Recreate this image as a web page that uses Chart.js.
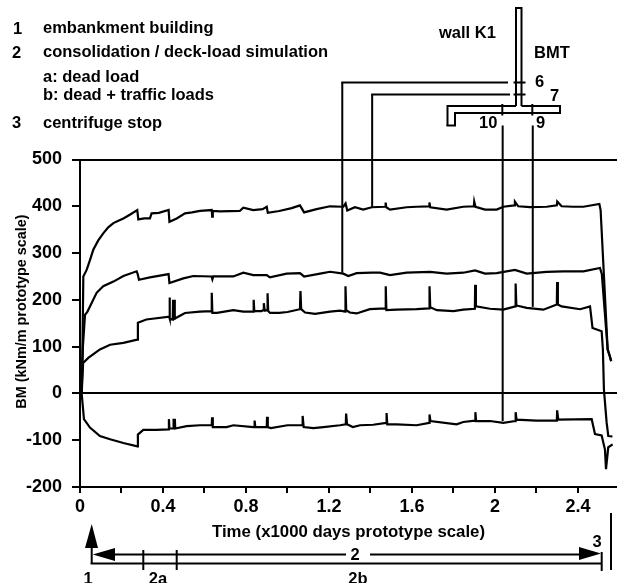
<!DOCTYPE html>
<html lang="en">
<head>
    <meta charset="UTF-8">
    <title>Bending moments in wall K1 and BMT</title>
    <script src="https://cdn.jsdelivr.net/npm/chart.js"></script>
    <style>
        html, body { margin: 0; padding: 0; background: #fff; }
        canvas { display: block; }
    </style>
</head>

<body>
    <canvas id="bmChart" width="617" height="583"></canvas>

    <script>
        // Curves, time in x1000 days, BM in kNm/m
        const gauge7Time = [0.008, 0.012, 0.016, 0.032, 0.048, 0.064, 0.088, 0.112, 0.136, 0.161, 0.185, 0.209, 0.24, 0.276, 0.281, 0.31, 0.337, 0.345, 0.38, 0.427, 0.431, 0.466, 0.506, 0.54, 0.578, 0.635, 0.637, 0.64, 0.674, 0.77, 0.787, 0.835, 0.88, 0.9, 0.905, 0.96, 1.02, 1.06, 1.08, 1.14, 1.205, 1.269, 1.28, 1.288, 1.325, 1.365, 1.406, 1.47, 1.473, 1.476, 1.494, 1.574, 1.622, 1.682, 1.684, 1.688, 1.767, 1.847, 1.898, 1.9, 1.906, 1.952, 2.008, 2.04, 2.094, 2.096, 2.112, 2.169, 2.249, 2.298, 2.3, 2.321, 2.377, 2.426, 2.503, 2.509, 2.543, 2.553, 2.56];
        const gauge7Bm = [0, 100, 250, 264, 285, 307, 327, 342, 355, 364, 369, 374, 382, 392, 372, 374, 374, 385, 386, 392, 367, 374, 385, 387, 390, 392, 378, 390, 389, 390, 397, 392, 394, 399, 386, 390, 396, 402, 387, 394, 400, 399, 406, 391, 398, 393, 398, 399, 408, 398, 393, 398, 399, 400, 408, 398, 393, 399, 400, 410, 399, 393, 393, 399, 402, 410, 400, 398, 399, 402, 410, 400, 399, 399, 405, 392, 94, 80, 69];

        const gauge6Time = [0.008, 0.014, 0.024, 0.036, 0.048, 0.08, 0.112, 0.161, 0.209, 0.273, 0.278, 0.284, 0.337, 0.427, 0.431, 0.498, 0.546, 0.634, 0.638, 0.642, 0.707, 0.739, 0.787, 0.835, 0.9, 0.915, 0.996, 1.06, 1.08, 1.17, 1.205, 1.269, 1.293, 1.333, 1.406, 1.446, 1.494, 1.574, 1.687, 1.767, 1.847, 1.904, 1.952, 2.008, 2.096, 2.153, 2.249, 2.329, 2.426, 2.506, 2.515, 2.543, 2.553, 2.56];
        const gauge6Bm = [0, 100, 168, 175, 186, 215, 229, 239, 251, 261, 255, 243, 248, 255, 236, 246, 251, 250, 244, 250, 250, 250, 258, 253, 253, 248, 256, 257, 250, 257, 260, 256, 251, 257, 258, 258, 253, 258, 260, 256, 258, 263, 256, 257, 264, 256, 260, 261, 261, 268, 255, 94, 80, 69];

        const gauge9Time = [0.008, 0.015, 0.04, 0.096, 0.145, 0.209, 0.276, 0.279, 0.32, 0.43, 0.4315, 0.4335, 0.447, 0.4485, 0.45, 0.4545, 0.456, 0.4575, 0.506, 0.578, 0.634, 0.635, 0.638, 0.66, 0.739, 0.787, 0.836, 0.837, 0.84, 0.875, 0.882, 0.886, 0.89, 0.902, 0.904, 0.907, 0.916, 0.96, 1.0, 1.06, 1.0625, 1.066, 1.085, 1.133, 1.205, 1.253, 1.278, 1.2795, 1.283, 1.3, 1.333, 1.397, 1.472, 1.4735, 1.4765, 1.526, 1.622, 1.683, 1.6845, 1.688, 1.72, 1.8, 1.847, 1.903, 1.9045, 1.908, 1.976, 2.04, 2.098, 2.0995, 2.103, 2.153, 2.233, 2.298, 2.2995, 2.303, 2.321, 2.41, 2.458, 2.47, 2.514, 2.52, 2.525, 2.538, 2.546, 2.566];
        const gauge9Bm = [0, 65, 76, 94, 104, 108, 115, 151, 158, 164, 205, 160, 158, 200, 160, 160, 200, 160, 172, 175, 176, 215, 172, 172, 178, 175, 175, 200, 176, 176, 178, 193, 177, 178, 214, 176, 172, 172, 174, 180, 219, 180, 173, 170, 175, 177, 175, 229, 178, 173, 171, 180, 182, 229, 178, 179, 180, 182, 229, 184, 178, 176, 179, 181, 232, 186, 181, 179, 186, 235, 188, 183, 179, 190, 238, 190, 186, 180, 186, 140, 133, 94, 8, -62, -91, -92];

        const gauge10Time = [0.008, 0.019, 0.048, 0.096, 0.145, 0.209, 0.276, 0.279, 0.305, 0.368, 0.427, 0.4285, 0.431, 0.4485, 0.45, 0.452, 0.4555, 0.457, 0.459, 0.514, 0.578, 0.635, 0.6365, 0.64, 0.707, 0.739, 0.835, 0.84, 0.8415, 0.845, 0.9, 0.9015, 0.905, 0.92, 1.0, 1.0715, 1.073, 1.078, 1.125, 1.173, 1.253, 1.281, 1.2825, 1.287, 1.315, 1.35, 1.413, 1.476, 1.4775, 1.481, 1.526, 1.622, 1.683, 1.6845, 1.689, 1.815, 1.847, 1.904, 1.9055, 1.909, 1.976, 2.04, 2.098, 2.0995, 2.104, 2.2, 2.298, 2.2995, 2.305, 2.466, 2.482, 2.514, 2.53, 2.535, 2.546, 2.567];
        const gauge10Bm = [0, -55, -73, -91, -98, -106, -113, -88, -78, -78, -77, -55, -75, -75, -54, -75, -75, -54, -75, -70, -68, -68, -51, -72, -72, -68, -72, -72, -58, -72, -72, -50, -72, -74, -68, -68, -48, -72, -74, -72, -68, -66, -43, -66, -72, -68, -67, -63, -42, -66, -66, -68, -63, -45, -59, -66, -61, -58, -40, -59, -59, -63, -59, -40, -56, -58, -58, -36, -56, -55, -87, -90, -120, -162, -115, -109];

        // Tick positions and labels
        const yTicks = [-200, -100, 0, 100, 200, 300, 400, 500];
        const xTicks = [0, 0.2, 0.4, 0.6, 0.8, 1, 1.2, 1.4, 1.6, 1.8, 2, 2.2, 2.4];
        const xLabels = ['0', '', '0.4', '', '0.8', '', '1.2', '', '1.6', '', '2', '', '2.4'];

        // Where the gauge leaders come down onto the curves: time, BM at the foot
        const leaderTime = [1.264, 1.408, 2.037, 2.182];
        const leaderFoot = [258, 398, -59, 185];
        const leaderTop = [82.5, 94.5, 125.5, 125.5]; // y pixel where each leader starts

        function toPoints(ts, vs) {
            return ts.map((t, i) => ({ x: t, y: vs[i] }));
        }

        function curve(ts, vs) {
            return {
                data: toPoints(ts, vs),
                borderColor: '#000',
                borderWidth: 2.2,
                pointRadius: 0,
                tension: 0,
                clip: false
            };
        }

        function text(ctx, str, x, y, font, align) {
            ctx.font = font;
            ctx.textAlign = align || 'left';
            ctx.textBaseline = 'middle';
            ctx.fillText(str, x, y);
        }

        function seg(ctx, x1, y1, x2, y2, w) {
            ctx.lineWidth = w || 2;
            ctx.beginPath();
            ctx.moveTo(x1, y1);
            ctx.lineTo(x2, y2);
            ctx.stroke();
        }

        function tri(ctx, a, b, c) {
            ctx.beginPath();
            ctx.moveTo(a[0], a[1]);
            ctx.lineTo(b[0], b[1]);
            ctx.lineTo(c[0], c[1]);
            ctx.closePath();
            ctx.fill();
        }

        // Everything round the plot: key, wall sketch, time bar
        const extras = {
            id: 'extras',
            afterDraw(chart) {
                const ctx = chart.ctx;
                const xs = chart.scales.x;
                const ys = chart.scales.y;
                ctx.save();
                ctx.fillStyle = '#000';
                ctx.strokeStyle = '#000';
                ctx.lineCap = 'butt';

                const bold = 'bold 16.5px "Liberation Sans"';
                text(ctx, '1', 13, 29, bold);
                text(ctx, 'embankment building', 43, 28, bold);
                text(ctx, '2', 12, 53, bold);
                text(ctx, 'consolidation / deck-load simulation', 43, 52, bold);
                text(ctx, 'a: dead load', 43, 77.5, bold);
                text(ctx, 'b: dead + traffic loads', 43, 95, bold);
                text(ctx, '3', 12, 123, bold);
                text(ctx, 'centrifuge stop', 43, 123, bold);
                text(ctx, 'wall K1', 439, 33, bold);
                text(ctx, 'BMT', 534, 53, bold);
                text(ctx, '6', 535, 82, bold);
                text(ctx, '7', 550, 96, bold);
                text(ctx, '10', 479, 123, bold);
                text(ctx, '9', 536, 123, bold);

                // wall and base slab outline
                seg(ctx, 516, 8, 521.5, 8);
                seg(ctx, 516, 7, 516, 106);
                seg(ctx, 521.5, 7, 521.5, 106);
                seg(ctx, 447.5, 106, 516, 106);
                seg(ctx, 521.5, 106, 560, 106);
                seg(ctx, 560, 105, 560, 114);
                seg(ctx, 455, 113, 560, 113);
                seg(ctx, 447.5, 105, 447.5, 126);
                seg(ctx, 455, 112, 455, 126);
                seg(ctx, 446.5, 125.5, 456, 125.5);
                // gauge marks on the sketch
                seg(ctx, 513.5, 82.5, 525.5, 82.5);
                seg(ctx, 513.5, 94.5, 525.5, 94.5);
                seg(ctx, 502.3, 104, 502.3, 115.5);
                seg(ctx, 532.3, 104, 532.3, 115.5);

                // leaders from the sketch down onto the curves
                leaderTime.forEach((t, i) => {
                    const x = xs.getPixelForValue(t);
                    seg(ctx, x, leaderTop[i], x, ys.getPixelForValue(leaderFoot[i]));
                });
                seg(ctx, xs.getPixelForValue(leaderTime[0]) - 1, 82.5, 508, 82.5);
                seg(ctx, xs.getPixelForValue(leaderTime[1]) - 1, 94.5, 510, 94.5);

                // rotated y title
                ctx.save();
                ctx.translate(22, 311.5);
                ctx.rotate(-Math.PI / 2);
                text(ctx, 'BM (kNm/m prototype scale)', 0, 0, 'bold 14.4px "Liberation Sans"', 'center');
                ctx.restore();

                // time bar under the plot
                tri(ctx, [91.7, 524], [85, 548], [98, 548]);
                tri(ctx, [92.7, 554.5], [115, 548], [115, 561]);
                seg(ctx, 91.7, 548, 91.7, 564);
                seg(ctx, 115, 554.5, 346, 554.5);
                seg(ctx, 370, 554.5, 580, 554.5);
                tri(ctx, [601, 553.5], [579, 547], [579, 560]);
                seg(ctx, 90.7, 563.5, 601.7, 563.5);
                seg(ctx, 143.3, 550, 143.3, 570);
                seg(ctx, 176.7, 550, 176.7, 570);
                seg(ctx, 601.7, 552, 601.7, 571);
                seg(ctx, 611, 513, 611, 570);
                text(ctx, '2', 355, 555, bold, 'center');
                text(ctx, '3', 597, 542, bold, 'center');
                text(ctx, '1', 88, 579.5, bold, 'center');
                text(ctx, '2a', 158, 579.5, bold, 'center');
                text(ctx, '2b', 358, 579.5, bold, 'center');
                ctx.restore();
            }
        };

        new Chart(document.getElementById('bmChart'), {
            type: 'line',
            data: {
                datasets: [
                    curve(gauge7Time, gauge7Bm),
                    curve(gauge6Time, gauge6Bm),
                    curve(gauge9Time, gauge9Bm),
                    curve(gauge10Time, gauge10Bm)
                ]
            },
            options: {
                responsive: false,
                animation: false,
                devicePixelRatio: 1,
                layout: { padding: { top: 159.5, left: 0, right: 0, bottom: 0 } },
                plugins: { legend: { display: false }, tooltip: { enabled: false } },
                scales: {
                    x: {
                        type: 'linear',
                        min: 0,
                        max: 2.588,
                        afterFit(scale) {
                            scale.height = 96;
                            scale.paddingLeft = scale.paddingRight = 0;
                        },
                        afterBuildTicks(scale) {
                            scale.ticks = xTicks.map(v => ({ value: v }));
                        },
                        border: { color: '#000', width: 2 },
                        grid: { drawOnChartArea: false, color: '#000', lineWidth: 2, tickLength: 6 },
                        ticks: {
                            autoSkip: false,
                            maxRotation: 0,
                            color: '#000',
                            padding: 3,
                            font: { family: '"Liberation Sans"', size: 18, weight: 'bold' },
                            callback(v) {
                                return xLabels[xTicks.indexOf(v)];
                            }
                        },
                        title: {
                            display: true,
                            text: 'Time (x1000 days prototype scale)',
                            color: '#000',
                            padding: { top: 5, bottom: 41 },
                            font: { family: '"Liberation Sans"', size: 16.8, weight: 'bold' }
                        }
                    },
                    y: {
                        min: -200,
                        max: 500,
                        afterFit(scale) {
                            scale.width = 80;
                            scale.paddingTop = scale.paddingBottom = 0;
                        },
                        afterBuildTicks(scale) {
                            scale.ticks = yTicks.map(v => ({ value: v }));
                        },
                        border: { color: '#000', width: 2 },
                        grid: {
                            lineWidth: 2,
                            tickLength: 8,
                            tickColor: '#000',
                            color: c => ([0, 500].includes(c.tick.value) ? '#000' : 'transparent')
                        },
                        ticks: {
                            color: '#000',
                            padding: 10,
                            font: { family: '"Liberation Sans"', size: 18, weight: 'bold' }
                        }
                    }
                }
            },
            plugins: [extras]
        });
    </script>
</body>
</html>
